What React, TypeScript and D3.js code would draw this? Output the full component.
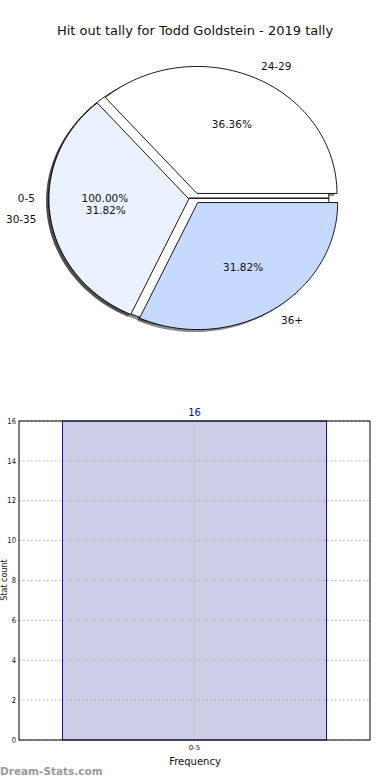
import { useMemo } from "react";
import * as d3 from "d3";

const title = "Hit out tally for Todd Goldstein - 2019 tally";

// first pie: a single full slice drawn underneath
const basePieLabels = ["0-5"];
const basePieValues = [16];
const basePieColors = ["#ffffff"];

// second pie on top
const pieLabels = ["24-29", "30-35", "36+"];
const pieValues = [8, 7, 7];
const pieColors = ["#ffffff", "#eaf1ff", "#c6d9ff"];

// bar chart
const barCategories = ["0-5"];
const barValues = [16];
const yTicks = [0, 2, 4, 6, 8, 10, 12, 14, 16];

const W = 390;
const H = 780;
const FONT = "DejaVu Sans, sans-serif";

const cx = 194.6;
const cy = 198.2;
const rx = 140;
const ry = 127;
const explode = 0.041;

type Slice = { label: string; value: number; start: number; end: number; pct: number; color: string };
type Placed = Slice & { mid: number; ox: number; oy: number };

function slices(labels: string[], values: number[], colors: string[]): Placed[] {
  const total = d3.sum(values);
  const arcs = d3.pie<number>().sort(null).startAngle(0).endAngle(2 * Math.PI)(values);
  return arcs.map((a, i) => {
    const mid = (a.startAngle + a.endAngle) / 2;
    return {
      label: labels[i],
      value: values[i],
      start: a.startAngle,
      end: a.endAngle,
      pct: (values[i] / total) * 100,
      color: colors[i],
      mid,
      ox: cx + explode * rx * Math.cos(mid),
      oy: cy - explode * ry * Math.sin(mid),
    };
  });
}

// angles counter-clockwise from east, like matplotlib
const pt = (x: number, y: number, a: number, f = 1) => [x + f * rx * Math.cos(a), y - f * ry * Math.sin(a)];

function wedgePath(x: number, y: number, s: number, e: number) {
  const path = d3.path();
  path.moveTo(x, y);
  const steps = Math.max(2, Math.ceil(((e - s) / (2 * Math.PI)) * 180));
  for (let k = 0; k <= steps; k++) {
    const a = s + ((e - s) * k) / steps;
    const [px, py] = pt(x, y, a);
    path.lineTo(px, py);
  }
  path.closePath();
  return path.toString();
}

export default function App() {
  const base = useMemo(() => slices(basePieLabels, basePieValues, basePieColors), []);
  const top = useMemo(() => slices(pieLabels, pieValues, pieColors), []);
  const all = [...base, ...top];

  const m = { left: 19, right: 370, top: 421, bottom: 740 };
  const x = d3.scaleBand<string>().domain(barCategories).range([m.left, m.right]).padding(0.1414);
  const y = d3.scaleLinear().domain([0, 16]).range([m.bottom, m.top]);

  return (
    <svg width={W} height={H} style={{ position: "absolute", left: 0, top: 0, background: "#fff" }}>
      <rect width={W} height={H} fill="#fff" />
      <text x={195} y={30} textAnchor="middle" dominantBaseline="central" fontFamily={FONT} fontSize={13} fill="#111">{title}</text>

      {/* shadows sit below every wedge */}
      {all.map((d, i) => (
        <path key={"s" + i} d={wedgePath(d.ox - 2.8, d.oy + 2.5, d.start, d.end)} fill="#000" opacity={0.45} />
      ))}
      {all.map((d, i) => (
        <path key={"w" + i} d={wedgePath(d.ox, d.oy, d.start, d.end)} fill={d.color} stroke="#000" strokeWidth={0.9} strokeLinejoin="round" />
      ))}
      {all.map((d, i) => {
        const [lx, ly] = pt(d.ox, d.oy, d.mid, 1.1);
        const [px, py] = pt(d.ox, d.oy, d.mid, 0.6);
        return (
          <g key={"t" + i} fontFamily={FONT} fontSize={10.5} fill="#111">
            <text x={lx} y={ly} textAnchor={lx > cx ? "start" : "end"} dominantBaseline="central">{d.label}</text>
            <text x={px} y={py} textAnchor="middle" dominantBaseline="central">{d.pct.toFixed(2) + "%"}</text>
          </g>
        );
      })}

      {/* bar chart */}
      {barCategories.map((c, i) => (
        <rect key={c} x={x(c)} y={y(barValues[i])} width={x.bandwidth()} height={y(0) - y(barValues[i])} fill="#cdcde6" stroke="#10108a" strokeWidth={1} />
      ))}
      {yTicks.map((t) => (
        <g key={t}>
          <line x1={m.left} x2={m.right} y1={y(t)} y2={y(t)} stroke="#aaa" strokeWidth={1} strokeDasharray="1.5,2.5" />
          <text x={m.left - 3} y={y(t)} textAnchor="end" dominantBaseline="central" fontFamily={FONT} fontSize={8} fill="#111" transform={`translate(${(m.left - 3) * 0.15},0) scale(0.85,1)`}>{t}</text>
        </g>
      ))}
      {barCategories.map((c) => {
        const cxb = (x(c) as number) + x.bandwidth() / 2;
        return (
          <g key={"x" + c}>
            <line x1={cxb} x2={cxb} y1={m.top} y2={m.bottom} stroke="#aaa" strokeWidth={1} strokeDasharray="1.5,2.5" />
            <text x={cxb} y={748} textAnchor="middle" dominantBaseline="central" fontFamily={FONT} fontSize={7} fill="#111">{c}</text>
          </g>
        );
      })}
      {barCategories.map((c, i) => (
        <text key={"v" + c} x={(x(c) as number) + x.bandwidth() / 2} y={y(barValues[i]) - 9} textAnchor="middle" dominantBaseline="central" fontFamily={FONT} fontSize={10} fill="#10108a">{barValues[i]}</text>
      ))}
      <rect x={m.left} y={m.top} width={m.right - m.left} height={m.bottom - m.top} fill="none" stroke="#000" strokeWidth={1} />
      <text x={195} y={761} textAnchor="middle" dominantBaseline="central" fontFamily={FONT} fontSize={10} fill="#111">Frequency</text>
      <text transform="translate(4.5,580) rotate(-90)" textAnchor="middle" dominantBaseline="central" fontFamily={FONT} fontSize={8} fill="#111">Stat count</text>
      <text x={0} y={771} dominantBaseline="central" fontFamily={FONT} fontSize={10.5} fontWeight="bold" fill="#999">Dream-Stats.com</text>
    </svg>
  );
}
